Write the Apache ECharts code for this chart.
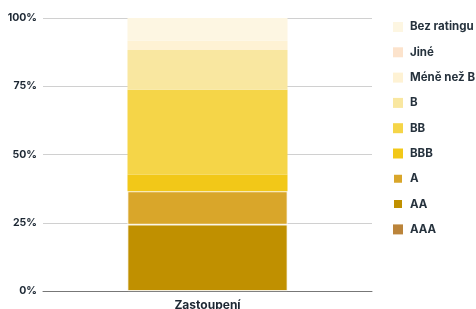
<!DOCTYPE html>
<html><head><meta charset="utf-8">
<script src="https://cdn.jsdelivr.net/npm/echarts@6/dist/echarts.min.js"></script>
<style>html,body{margin:0;padding:0;background:#fff}#c{width:476px;height:309px}</style>
</head><body><div id="c"></div>
<script>
const categories = ["Zastoupení"];
const seriesNames = ["AAA", "AA", "A", "BBB", "BB", "B", "Méně než B", "Jiné", "Bez ratingu"];
const seriesValues = [0, 24.3, 12.2, 6.1, 31.1, 14.6, 3.4, 0, 8.3];
const seriesColors = ["#bb843a", "#c09000", "#d9a62a", "#f2c818", "#f5d548", "#f9e7a0", "#fef2d4", "#fce3cc", "#fdf6e2"];
const yTicks = [0, 25, 50, 75, 100];

const chart = echarts.init(document.getElementById('c'), null, {renderer: 'canvas'});
const series = seriesNames.map((n, i) => ({
  name: n, type: 'bar', stack: 'total', barWidth: 160,
  data: [seriesValues[i]],
  itemStyle: {color: seriesColors[i], borderColor: '#fff', borderWidth: (n === 'A' || n === 'AA') ? 0.8 : 0},
  emphasis: {disabled: true}
}));
chart.setOption({
  animation: false,
  grid: {left: 43, right: 104, top: 18, bottom: 18, containLabel: false, outerBoundsMode: 'none'},
  legend: {
    orient: 'vertical', left: 392, top: 21, padding: 0,
    itemWidth: 10, itemHeight: 10, itemGap: 13.3,
    icon: 'rect',
    data: seriesNames.slice().reverse(),
    textStyle: {fontFamily: 'Inter', fontWeight: 'bold', fontSize: 11.5, color: '#26323d', padding: [0, 0, 0, 2]}
  },
  xAxis: {
    type: 'category', data: categories,
    axisLine: {lineStyle: {color: '#777', width: 1}},
    axisTick: {show: false},
    axisLabel: {fontFamily: 'Inter', fontWeight: 'bold', fontSize: 12, color: '#1c2733', margin: 8}
  },
  yAxis: {
    type: 'value', min: 0, max: 100, interval: 25,
    axisLabel: {fontFamily: 'Inter', fontWeight: 'bold', fontSize: 10.5, color: '#1c2733', margin: 6,
      formatter: v => v + '%'},
    splitLine: {lineStyle: {color: '#d0d0d0', width: 1}},
    axisLine: {show: false}, axisTick: {show: false}
  },
  series: series
});
</script></body></html>
